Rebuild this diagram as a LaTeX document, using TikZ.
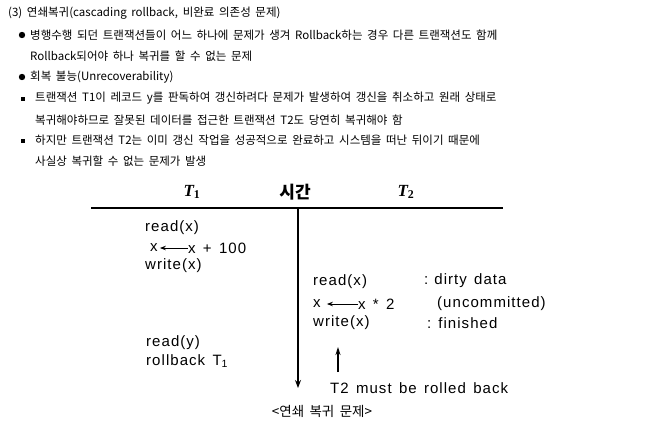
\documentclass[tikz,border=0pt]{standalone}
\usepackage{fontspec}
\setmainfont{Noto Sans CJK KR}
\newfontfamily\diagfont[LetterSpace=7, WordSpace=1.4]{Liberation Sans}
\newfontfamily\headfont{Liberation Serif}
\usetikzlibrary{arrows.meta, positioning}
\newcommand\korfont[1]{\fontsize{#1}{14}\selectfont\spaceskip 0.4em plus 0.1em\relax}

\begin{document}
\begin{tikzpicture}[x=1pt, y=-1pt,
  txt/.style={anchor=west, inner sep=0pt, font=\korfont{11.5}},
  op/.style={anchor=west, inner sep=0pt, font=\diagfont\fontsize{15}{17}\selectfont},
  hd/.style={inner sep=0pt, font=\fontsize{16}{18}\selectfont}]
  \useasboundingbox (0,0) rectangle (658,440);

  % Explanation text
  \node[txt] (title) at (8, 13) {(3) 연쇄복귀(cascading rollback, 비완료 의존성 문제)};
  \fill (22, 35) circle (3.2);
  \node[txt] (b1a) at (30, 35) {병행수행 되던 트랜잭션들이 어느 하나에 문제가 생겨 Rollback하는 경우 다른 트랜잭션도 함께};
  \node[txt] (b1b) at (30, 56) {Rollback되어야 하나 복귀를 할 수 없는 문제};
  \fill (22, 77) circle (3.2);
  \node[txt] (b2) at (30, 77) {회복 불능(Unrecoverability)};
  \fill (21, 96.5) rectangle +(4, 4);
  \node[txt] (s1a) at (35, 98) {트랜잭션 T1이 레코드 y를 판독하여 갱신하려다 문제가 발생하여 갱신을 취소하고 원래 상태로};
  \node[txt] (s1b) at (35, 120) {복귀해야하므로 잘못된 데이터를 접근한 트랜잭션 T2도 당연히 복귀해야 함};
  \fill (21, 138.5) rectangle +(4, 4);
  \node[txt] (s2a) at (35, 140) {하지만 트랜잭션 T2는 이미 갱신 작업을 성공적으로 완료하고 시스템을 떠난 뒤이기 때문에};
  \node[txt] (s2b) at (35, 161) {사실상 복귀할 수 없는 문제가 발생};

  % Schedule header
  \node[hd, font=\headfont\bfseries\itshape\fontsize{17}{19}\selectfont] (t1) at (192, 192) {T\textsubscript{\upshape 1}};
  \node[hd, font=\bfseries\fontsize{17}{19}\selectfont] (time) at (295, 192) {시간};
  \node[hd, font=\headfont\bfseries\itshape\fontsize{17}{19}\selectfont] (t2) at (406, 192) {T\textsubscript{\upshape 2}};
  \coordinate (hl) at (91, 208);
  \coordinate (hr) at (503, 208);
  \draw[line width=1.3pt] (hl) -- (hr);
  \coordinate (vtop) at (298, 208);
  \coordinate (vbot) at (298, 388);
  \draw[line width=1.2pt, -{Stealth[length=8pt, width=6pt]}] (vtop) -- (vbot);

  % T1 operations
  \node[op] (r1) at (145, 228) {read(x)};
  \node[op] (x1) at (150, 248) {x};
  \node[op] (e1) at (188, 248) {x + 100};
  \draw[line width=0.9pt, -{Stealth[length=6pt, width=4.5pt]}] (e1.west) -- ([xshift=2pt]x1.east);
  \node[op] (w1) at (145, 266) {write(x)};

  % T2 operations
  \node[op] (r2) at (313, 282) {read(x)};
  \node[op] (x2) at (313, 304) {x};
  \node[op] (e2) at (358, 304) {x * 2};
  \draw[line width=0.9pt, -{Stealth[length=6pt, width=4.5pt]}] (e2.west) -- ([xshift=6pt]x2.east);
  \node[op] (w2) at (313, 323) {write(x)};
  \node[op] (n1) at (424, 281) {:\hspace{6pt}dirty data};
  \node[op] (n2) at (437, 304) {(uncommitted)};
  \node[op] (n3) at (427, 323) {:\hspace{7pt}finished};

  % T1 failure
  \node[op] (r3) at (146, 343) {read(y)};
  \node[op] (rb) at (146, 361) {rollback T\textsubscript{1}};

  % Consequence
  \node[op] (must) at (330, 388) {T2 must be rolled back};
  \coordinate (ua) at (338, 372);
  \coordinate (ub) at (338, 347);
  \draw[line width=1.2pt, -{Stealth[length=8pt, width=5pt]}] (ua) -- (ub);

  % Caption
  \node[hd, font=\korfont{13.5}] (cap) at (322, 411) {<연쇄 복귀 문제>};
\end{tikzpicture}
\end{document}
